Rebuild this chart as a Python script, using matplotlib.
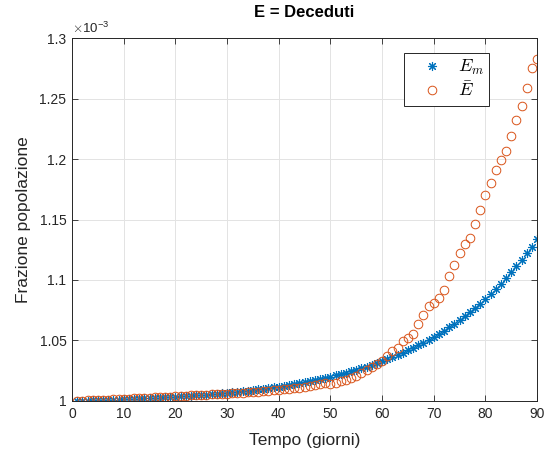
import matplotlib
matplotlib.use("Agg")
import matplotlib.pyplot as plt

plt.rcParams['font.family'] = ['Liberation Sans', 'DejaVu Sans']
plt.rcParams['mathtext.fontset'] = 'cm'

# giorni 1..90, valori in unita' di 1e-3
giorni = list(range(1, 91))

e_m = [
    1.00011, 1.00022, 1.00034, 1.00047, 1.00060, 1.00073, 1.00088, 1.00103, 1.00118, 1.00135,
    1.00152, 1.00170, 1.00188, 1.00208, 1.00228, 1.00250, 1.00272, 1.00296, 1.00320, 1.00346,
    1.00373, 1.00401, 1.00430, 1.00461, 1.00493, 1.00527, 1.00562, 1.00598, 1.00637, 1.00677,
    1.00719, 1.00763, 1.00809, 1.00858, 1.00908, 1.00961, 1.01016, 1.01073, 1.01134, 1.01197,
    1.01263, 1.01332, 1.01404, 1.01480, 1.01559, 1.01641, 1.01728, 1.01818, 1.01913, 1.02012,
    1.02115, 1.02223, 1.02337, 1.02455, 1.02579, 1.02709, 1.02844, 1.02986, 1.03134, 1.03290,
    1.03452, 1.03622, 1.03799, 1.03985, 1.04179, 1.04383, 1.04595, 1.04818, 1.05050, 1.05294,
    1.05548, 1.05815, 1.06093, 1.06385, 1.06689, 1.07008, 1.07342, 1.07690, 1.08055, 1.08437,
    1.08836, 1.09254, 1.09690, 1.10147, 1.10625, 1.11125, 1.11648, 1.12195, 1.12767, 1.13366,
]

e_bar = [
    1.0002, 1.0003, 1.0005, 1.0006, 1.0008, 1.0010, 1.0011, 1.0013, 1.0015, 1.0017,
    1.0019, 1.0021, 1.0023, 1.0025, 1.0027, 1.0030, 1.0032, 1.0035, 1.0037, 1.0040,
    1.0042, 1.0044, 1.0046, 1.0048, 1.0050, 1.0052, 1.0054, 1.0056, 1.0058, 1.0060,
    1.0062, 1.0065, 1.0068, 1.0071, 1.0074, 1.0077, 1.0080, 1.0083, 1.0087, 1.0091,
    1.0095, 1.0099, 1.0104, 1.0110, 1.0117, 1.0124, 1.0131, 1.0138, 1.0145, 1.0140,
    1.0150, 1.0162, 1.0176, 1.0192, 1.0210, 1.0232, 1.0258, 1.0283, 1.0304, 1.0332,
    1.0373, 1.0409, 1.0442, 1.0497, 1.0520, 1.0550, 1.0640, 1.0707, 1.0785, 1.0810,
    1.0850, 1.0920, 1.1030, 1.1120, 1.1220, 1.1300, 1.1350, 1.1460, 1.1580, 1.1700,
    1.1800, 1.1910, 1.1990, 1.2070, 1.2190, 1.2320, 1.2440, 1.2590, 1.2750, 1.2825,
]

x_ticks = [0, 10, 20, 30, 40, 50, 60, 70, 80, 90]
y_ticks = [1.0, 1.05, 1.1, 1.15, 1.2, 1.25, 1.3]
y_tick_labels = ['1', '1.05', '1.1', '1.15', '1.2', '1.25', '1.3']

blu = '#0072BD'
arancio = '#D95319'
scuro = '#262626'

fig = plt.figure(figsize=(5.44, 4.51), dpi=100)
ax = fig.add_axes([0.1324, 0.1109, 0.8548, 0.8048])

# asterisco a 8 bracci come in MATLAB
ax.plot(giorni, e_m, linestyle='none', marker=(8, 2, 0), markersize=6.5,
        markeredgecolor=blu, markeredgewidth=0.8, label=r'$E_m$')
ax.plot(giorni, e_bar, linestyle='none', marker='o', markersize=6.2,
        markerfacecolor='none', markeredgecolor=arancio, markeredgewidth=0.7, label=r'$\bar{E}$')

ax.set_xlim(0, 90)
ax.set_ylim(1.0, 1.3)
ax.set_xticks(x_ticks)
ax.set_yticks(y_ticks)
ax.set_yticklabels(y_tick_labels)
ax.tick_params(direction='in', top=True, right=True, length=4, width=0.6,
               labelsize=10, colors=scuro, pad=4)
ax.grid(True, color='#e3e3e3', linewidth=0.7)
ax.set_axisbelow(True)
for sp in ax.spines.values():
    sp.set_color(scuro)
    sp.set_linewidth(0.7)

ax.set_title('E = Deceduti', fontsize=12, fontweight='bold', color='black', pad=15)
ax.set_xlabel('Tempo (giorni)', fontsize=12.5, color=scuro, labelpad=9)
ax.set_ylabel('Frazione popolazione', fontsize=12.5, color=scuro, labelpad=6)
ax.text(0.0, 1.005, r'$\times$10$^{\mathregular{-3}}$', transform=ax.transAxes,
        fontsize=9.5, color=scuro, ha='left', va='bottom',
        family=['Liberation Sans', 'DejaVu Sans'])

leg = ax.legend(loc='upper right', bbox_to_anchor=(0.897, 0.959), fontsize=13,
                frameon=True, fancybox=False, edgecolor=scuro, framealpha=1,
                handletextpad=0.25, borderpad=0.3, labelspacing=0.22,
                markerfirst=True, handlelength=2.4, borderaxespad=0)
leg.get_frame().set_linewidth(0.7)

fig.savefig('out.png', dpi=100)
